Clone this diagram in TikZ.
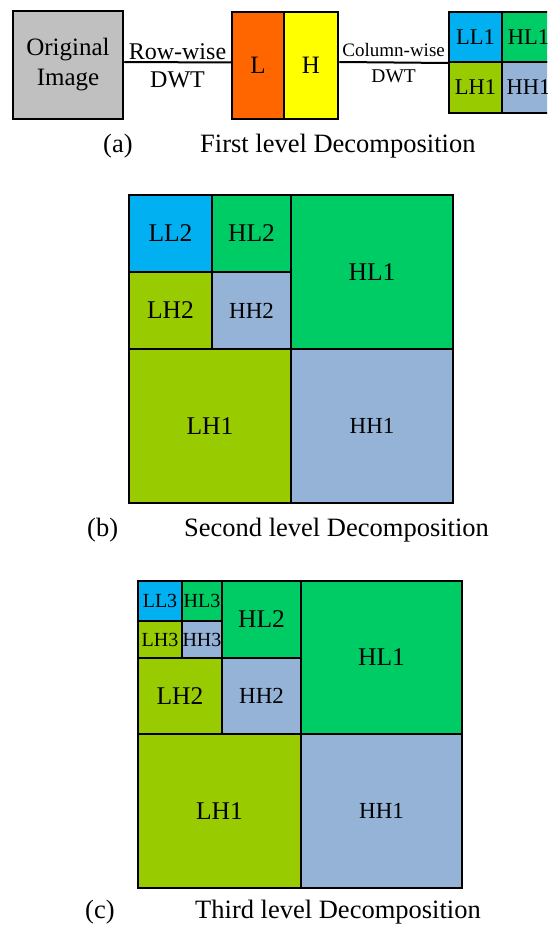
\documentclass[tikz,border=0pt]{standalone}
\usepackage{fontspec}
\setmainfont{Liberation Serif}
\definecolor{imggray}{HTML}{C0C0C0}
\definecolor{lorange}{HTML}{FF6600}
\definecolor{hyellow}{HTML}{FFFF00}
\definecolor{llblue}{HTML}{00B0F0}
\definecolor{hlgreen}{HTML}{00CC66}
\definecolor{lhgreen}{HTML}{99CC00}
\definecolor{hhblue}{HTML}{95B3D7}
\begin{document}
\begin{tikzpicture}[x=1pt, y=-1pt,
    box/.style={draw, line width=2.5pt, inner sep=0pt, align=center, font=\fontsize{25}{30}\selectfont},
    cell/.style={draw, line width=2pt, inner sep=0pt, font=\fontsize{25.5}{30}\selectfont},
    ll/.style={cell, fill=llblue},
    hl/.style={cell, fill=hlgreen},
    lh/.style={cell, fill=lhgreen},
    hh/.style={cell, fill=hhblue, font=\fontsize{23}{28}\selectfont},
    small/.style={font=\fontsize{20}{24}\selectfont},
    mid/.style={font=\fontsize{22.5}{27}\selectfont},
    wire/.style={line width=2pt},
    caption/.style={anchor=base west, inner sep=0pt, font=\fontsize{26.5}{32}\selectfont}
  ]
  \useasboundingbox (0,0) rectangle (547,925);
  \clip (0,0) rectangle (547,925);

  % (a) first level
  \node[box, fill=imggray, minimum width=110pt, minimum height=108pt] (orig) at (68,65) {Original\\Image};
  \node[box, fill=lorange, minimum width=52pt, minimum height=107pt] (L) at (258,65.5) {L};
  \node[box, fill=hyellow, minimum width=54pt, minimum height=107pt] (H) at (311,65.5) {H};
  \node[ll, mid, minimum width=53pt, minimum height=50pt] (LL1a) at (475.5,37) {LL1};
  \node[hl, mid, minimum width=53pt, minimum height=50pt] (HL1a) at (528.5,37) {HL1};
  \node[lh, mid, minimum width=53pt, minimum height=51pt] (LH1a) at (475.5,87.5) {LH1};
  \node[hh, mid, minimum width=53pt, minimum height=51pt] (HH1a) at (528.5,87.5) {HH1};

  \draw[wire] ([yshift=3pt]orig.east) -- ([yshift=3pt]L.west)
    node[midway, above=1pt, inner sep=1pt, font=\fontsize{24}{28}\selectfont] {Row-wise}
    node[midway, below=8pt, inner sep=1pt, font=\fontsize{24}{28}\selectfont] {DWT};
  \draw[wire] ([yshift=3.5pt]H.east) -- (LL1a.south west)
    node[midway, above=4pt, inner sep=1pt, font=\fontsize{19}{23}\selectfont] {Column-wise}
    node[midway, below=5pt, inner sep=1pt, font=\fontsize{19.5}{23}\selectfont] {DWT};

  \node[caption] (capa) at (103,152.5) {(a)};
  \node[caption] (capat) at (200,152.5) {First level Decomposition};

  % (b) second level
  \node[ll, minimum width=83pt, minimum height=77pt] (LL2b) at (170.5,233.5) {LL2};
  \node[hl, minimum width=79pt, minimum height=77pt] (HL2b) at (251.5,233.5) {HL2};
  \node[lh, minimum width=83pt, minimum height=77pt] (LH2b) at (170.5,310.5) {LH2};
  \node[hh, minimum width=79pt, minimum height=77pt] (HH2b) at (251.5,310.5) {HH2};
  \node[hl, minimum width=162pt, minimum height=154pt] (HL1b) at (372,272) {HL1};
  \node[lh, minimum width=162pt, minimum height=154pt] (LH1b) at (210,426) {LH1};
  \node[hh, minimum width=162pt, minimum height=154pt] (HH1b) at (372,426) {HH1};

  \node[caption] (capb) at (87,536) {(b)};
  \node[caption] (capbt) at (184,536) {Second level Decomposition};

  % (c) third level
  \node[ll, small, minimum width=44pt, minimum height=40pt] (LL3c) at (160,601) {LL3};
  \node[hl, small, minimum width=40pt, minimum height=40pt] (HL3c) at (202,601) {HL3};
  \node[lh, small, minimum width=44pt, minimum height=37pt] (LH3c) at (160,639.5) {LH3};
  \node[hh, small, minimum width=40pt, minimum height=37pt] (HH3c) at (202,639.5) {HH3};
  \node[hl, minimum width=79pt, minimum height=77pt] (HL2c) at (261.5,619.5) {HL2};
  \node[lh, minimum width=84pt, minimum height=76pt] (LH2c) at (180,696) {LH2};
  \node[hh, minimum width=79pt, minimum height=76pt] (HH2c) at (261.5,696) {HH2};
  \node[hl, minimum width=161pt, minimum height=153pt] (HL1c) at (381.5,657.5) {HL1};
  \node[lh, minimum width=163pt, minimum height=154pt] (LH1c) at (219.5,811) {LH1};
  \node[hh, minimum width=161pt, minimum height=154pt] (HH1c) at (381.5,811) {HH1};

  \node[caption] (capc) at (85,918) {(c)};
  \node[caption] (capct) at (195,918) {Third level Decomposition};
\end{tikzpicture}
\end{document}
